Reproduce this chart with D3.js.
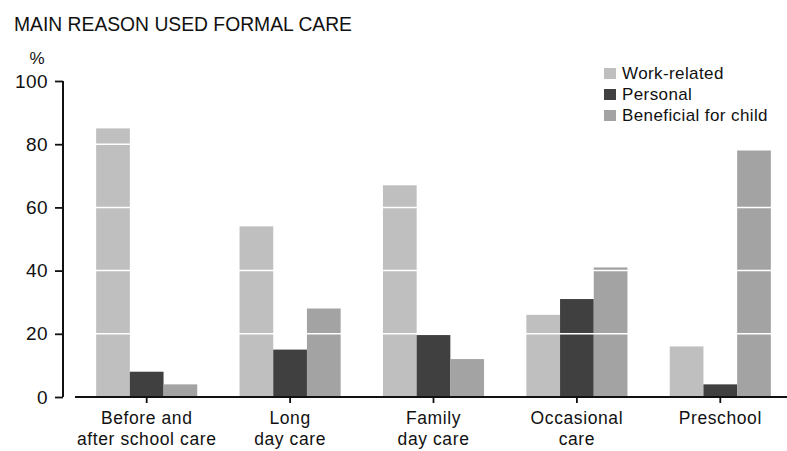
<!DOCTYPE html>
<html>
<head>
<meta charset="utf-8">
<script src="https://cdn.jsdelivr.net/npm/d3@7"></script>
<style>
  body { margin: 0; background: #fff; }
  svg { display: block; font-family: "Liberation Sans", Arial, sans-serif; }
</style>
</head>
<body>
<svg id="chart" width="787" height="451"></svg>
<script>
const categories = [
  ["Before and", "after school care"],
  ["Long", "day care"],
  ["Family", "day care"],
  ["Occasional", "care"],
  ["Preschool"]
];
const seriesNames = ["Work-related", "Personal", "Beneficial for child"];
const workRelated = [85, 54, 67, 26, 16];
const personal = [8, 15, 19.6, 31, 4];
const beneficial = [4, 28, 12, 41, 78];
const yTicks = [0, 20, 40, 60, 80, 100];
const gridValues = [20, 40, 60, 80];
const colors = ["#bfbfbf", "#404040", "#a3a3a3"];

const series = [workRelated, personal, beneficial];
const svg = d3.select("#chart");

const y = d3.scaleLinear().domain([0, 100]).range([397, 81]);
const x0 = d3.scaleBand().domain(d3.range(categories.length)).range([75, 792])
  .paddingInner(0.295).paddingOuter(0.1475);
const x1 = d3.scaleBand().domain(d3.range(series.length)).range([0, x0.bandwidth()]);

// title
svg.append("text").attr("x", 14).attr("y", 31)
  .attr("font-size", 19.5).attr("textLength", 338).attr("lengthAdjust", "spacingAndGlyphs")
  .attr("fill", "#111").text("MAIN REASON USED FORMAL CARE");
svg.append("text").attr("x", 37).attr("y", 64).attr("text-anchor", "middle")
  .attr("font-size", 17).attr("fill", "#111").text("%");

// bars
const groups = svg.append("g").selectAll("g").data(categories).join("g")
  .attr("transform", (d, i) => `translate(${x0(i)},0)`);
groups.selectAll("rect").data((d, i) => series.map((s, k) => ({k, v: s[i]}))).join("rect")
  .attr("x", d => x1(d.k)).attr("width", x1.bandwidth())
  .attr("y", d => y(d.v)).attr("height", d => y(0) - y(d.v))
  .attr("fill", d => colors[d.k]);

// white grid lines over bars
svg.append("g").selectAll("line").data(gridValues).join("line")
  .attr("x1", 75).attr("x2", 787)
  .attr("y1", d => y(d)).attr("y2", d => y(d))
  .attr("stroke", "#fff").attr("stroke-width", 1.5);

// y axis
const yAxis = svg.append("g").attr("transform", "translate(63,0)")
  .call(d3.axisLeft(y).tickValues(yTicks).tickSize(8).tickPadding(7).tickFormat(d3.format("d")));
yAxis.select(".domain").attr("d", `M0,${y(0)}V${y(100)}`).attr("stroke", "#111").attr("stroke-width", 2);
yAxis.selectAll(".tick line").attr("stroke", "#111").attr("stroke-width", 1.8);
yAxis.selectAll(".tick text").attr("font-size", 19).attr("fill", "#111")
  .attr("letter-spacing", 0.4)
  .attr("font-family", "Liberation Sans, Arial, sans-serif");

// x axis
const xAxis = svg.append("g").attr("transform", `translate(0,${y(0)})`)
  .call(d3.axisBottom(d3.scaleBand().domain(d3.range(categories.length)).range(x0.range())
      .paddingInner(0.295).paddingOuter(0.1475))
    .tickSize(6).tickFormat(""));
xAxis.select(".domain").attr("d", "M75,0H787").attr("stroke", "#111").attr("stroke-width", 2);
xAxis.selectAll(".tick line").attr("stroke", "#111").attr("stroke-width", 1.8);
xAxis.selectAll(".tick").each(function(d, i) {
  const t = d3.select(this).append("text").attr("fill", "#111").attr("font-size", 17.5)
    .attr("letter-spacing", 0.6)
    .attr("text-anchor", "middle").attr("font-family", "Liberation Sans, Arial, sans-serif");
  categories[i].forEach((line, j) => {
    t.append("tspan").attr("x", 0).attr("y", 27 + j * 21).text(line);
  });
});

// legend
const legend = svg.append("g").selectAll("g").data(seriesNames).join("g")
  .attr("transform", (d, i) => `translate(604,${68 + i * 21})`);
legend.append("rect").attr("width", 12).attr("height", 11).attr("fill", (d, i) => colors[i]);
legend.append("text").attr("x", 18).attr("y", 10.5).attr("font-size", 17)
  .attr("letter-spacing", 0.4).attr("fill", "#111").text(d => d);
</script>
</body>
</html>
